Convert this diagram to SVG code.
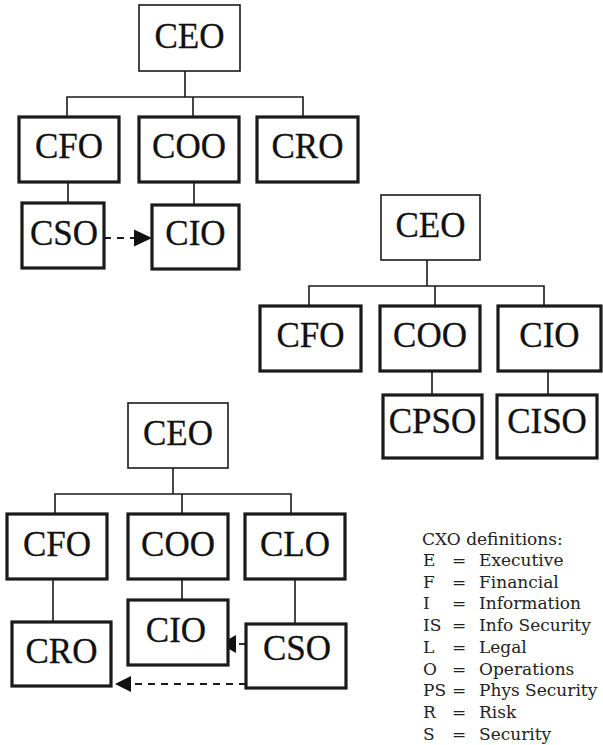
<svg xmlns="http://www.w3.org/2000/svg" width="603" height="745" viewBox="0 0 603 745">
<style>
.thin{fill:#fff;stroke:#1a1a1a;stroke-width:1.6}
.thick{fill:#fff;stroke:#1a1a1a;stroke-width:3.2}
.lbl{font-family:"Liberation Serif","Times New Roman",serif;font-size:35px;fill:#111;text-anchor:middle;stroke:#111;stroke-width:0.3}
.conn{stroke:#1a1a1a;stroke-width:1.6;fill:none}
.dash{stroke:#1a1a1a;stroke-width:1.8;fill:none;stroke-dasharray:7 6}
.head{fill:#111;stroke:none}
.leg{font-family:"DejaVu Serif","Liberation Serif",serif;font-size:17px;fill:#222}
</style>
<rect width="603" height="745" fill="#fff"/>
<g id="connectors">
<path class="conn" d="M185,71V97M67,117V97H303V117M193,97V117M68,182V203M194,182V205"/>
<path class="conn" d="M427,260V286M309,306V286H544V306M435,286V306M432,371V395M548,371V395"/>
<path class="conn" d="M173,468V494M55,514V494H291V514M182,494V514M53,579V622M182,579V600M295,579V624"/>
<path class="dash" d="M104,238H134"/>
<polygon class="head" points="134,229.5 152,238 134,246.5"/>
<path class="dash" d="M246,644H236"/>
<polygon class="head" points="236,635 220,644 236,653"/>
<path class="dash" d="M246,684H131"/>
<polygon class="head" points="131,676 115,684 131,692"/>
</g>
<g id="c1_ceo"><rect class="thin" x="139" y="5" width="101" height="66"/><text class="lbl" x="189.5" y="48">CEO</text></g>
<g id="c1_cfo"><rect class="thick" x="19" y="117" width="100" height="65"/><text class="lbl" x="69" y="158">CFO</text></g>
<g id="c1_coo"><rect class="thick" x="139" y="117" width="100" height="65"/><text class="lbl" x="189" y="158">COO</text></g>
<g id="c1_cro"><rect class="thick" x="257" y="117" width="101" height="65"/><text class="lbl" x="307.5" y="158">CRO</text></g>
<g id="c1_cso"><rect class="thick" x="22" y="203" width="82" height="65"/><text class="lbl" x="64" y="245">CSO</text></g>
<g id="c1_cio"><rect class="thick" x="152" y="205" width="87" height="64"/><text class="lbl" x="195.5" y="245">CIO</text></g>

<g id="c2_ceo"><rect class="thin" x="381" y="195" width="99" height="65"/><text class="lbl" x="430.5" y="237">CEO</text></g>
<g id="c2_cfo"><rect class="thick" x="260" y="306" width="101" height="65"/><text class="lbl" x="310.5" y="347">CFO</text></g>
<g id="c2_coo"><rect class="thick" x="380" y="306" width="100" height="65"/><text class="lbl" x="430" y="347">COO</text></g>
<g id="c2_cio"><rect class="thick" x="498" y="306" width="103" height="65"/><text class="lbl" x="549.5" y="347">CIO</text></g>
<g id="c2_cpso"><rect class="thick" x="383" y="395" width="99" height="63"/><text class="lbl" x="432.5" y="433">CPSO</text></g>
<g id="c2_ciso"><rect class="thick" x="497" y="395" width="100" height="63"/><text class="lbl" x="547" y="433">CISO</text></g>

<g id="c3_ceo"><rect class="thin" x="128" y="403" width="100" height="65"/><text class="lbl" x="178" y="445">CEO</text></g>
<g id="c3_cfo"><rect class="thick" x="7" y="514" width="100" height="65"/><text class="lbl" x="57" y="556">CFO</text></g>
<g id="c3_coo"><rect class="thick" x="128" y="514" width="100" height="65"/><text class="lbl" x="178" y="556">COO</text></g>
<g id="c3_clo"><rect class="thick" x="245" y="514" width="100" height="65"/><text class="lbl" x="295" y="556">CLO</text></g>
<g id="c3_cro"><rect class="thick" x="12" y="622" width="99" height="64"/><text class="lbl" x="61.5" y="663">CRO</text></g>
<g id="c3_cio"><rect class="thick" x="128" y="600" width="100" height="65"/><text class="lbl" x="176" y="642">CIO</text></g>
<g id="c3_cso"><rect class="thick" x="246" y="624" width="100" height="64"/><text class="lbl" x="297" y="660">CSO</text></g>

<g id="legend" class="leg">
<text x="422" y="545">CXO definitions:</text>
<text x="423" y="566">E</text><text x="452" y="566">=</text><text x="479" y="566">Executive</text>
<text x="423" y="588">F</text><text x="452" y="588">=</text><text x="479" y="588">Financial</text>
<text x="423" y="609">I</text><text x="452" y="609">=</text><text x="479" y="609">Information</text>
<text x="423" y="631">IS</text><text x="452" y="631">=</text><text x="479" y="631">Info Security</text>
<text x="423" y="653">L</text><text x="452" y="653">=</text><text x="479" y="653">Legal</text>
<text x="423" y="675">O</text><text x="452" y="675">=</text><text x="479" y="675">Operations</text>
<text x="423" y="696">PS</text><text x="452" y="696">=</text><text x="479" y="696">Phys Security</text>
<text x="423" y="718">R</text><text x="452" y="718">=</text><text x="479" y="718">Risk</text>
<text x="423" y="740">S</text><text x="452" y="740">=</text><text x="479" y="740">Security</text>
</g>
</svg>
